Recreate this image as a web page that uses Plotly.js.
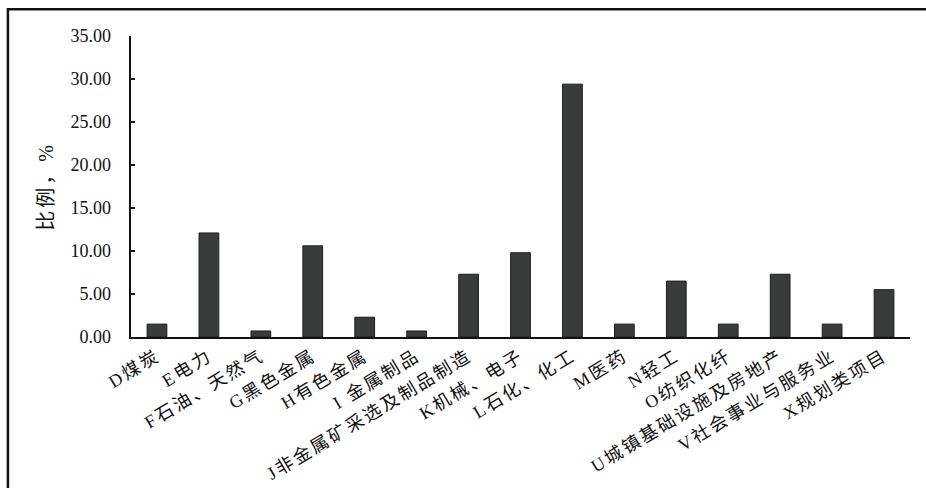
<!DOCTYPE html>
<html>
<head>
<meta charset="utf-8">
<script src="https://cdn.plot.ly/plotly-3.0.1.min.js"></script>
<style>
  html, body { margin: 0; padding: 0; background: #ffffff; }
  #chart { width: 926px; height: 488px; }
  /* wider spacing for the rotated category labels */
  #chart .xtick text { letter-spacing: 2.5px; }
  #chart .ytitle { letter-spacing: 3px; }
</style>
</head>
<body>
<div id="chart"></div>
<script>
// Industry categories
const categories = [
  "D煤炭", "E电力", "F石油、天然气", "G黑色金属", "H有色金属",
  "I 金属制品", "J非金属矿采选及制品制造", "K机械、电子", "L石化、化工",
  "M医药", "N轻工", "O纺织化纤", "U城镇基础设施及房地产",
  "V社会事业与服务业", "X规划类项目"
];

// Share of each industry, %
const shares = [1.5, 12.1, 0.7, 10.6, 2.3, 0.7, 7.3, 9.8, 29.4, 1.5, 6.5, 1.5, 7.3, 1.5, 5.5];

// Y axis tick values
const yTicks = [0, 5, 10, 15, 20, 25, 30, 35];

const fontFamily = '"Liberation Serif", "Noto Sans CJK SC", serif';
const ink = "#111111";

const trace = {
  type: "bar",
  x: categories,
  y: shares,
  marker: { color: "#3a3c3b", line: { color: "#1c1c1c", width: 1 } },
  hoverinfo: "x+y"
};

const layout = {
  width: 926,
  height: 488,
  margin: { l: 131, r: 16, t: 36, b: 151 },
  paper_bgcolor: "#ffffff",
  plot_bgcolor: "#ffffff",
  showlegend: false,
  bargap: 0.62,
  font: { family: fontFamily, color: ink },
  xaxis: {
    type: "category",
    showline: true,
    linecolor: ink,
    linewidth: 2,
    ticks: "",
    tickangle: -31,
    tickfont: { size: 18, family: fontFamily, color: ink },
    showgrid: false,
    zeroline: false,
    automargin: false
  },
  yaxis: {
    range: [0, 35],
    tickvals: yTicks,
    tickformat: ".2f",
    showline: true,
    linecolor: ink,
    linewidth: 2.5,
    ticks: "inside",
    ticklen: 4,
    tickwidth: 2,
    tickcolor: ink,
    ticklabelstandoff: 14,
    tickfont: { size: 18, family: fontFamily, color: ink },
    showgrid: false,
    zeroline: false,
    automargin: false,
    title: {
      text: "比例，%",
      font: { size: 20, family: fontFamily, color: ink },
      standoff: 12
    }
  },
  shapes: [{
    // outer frame, open on the right and bottom edges of the page
    type: "rect",
    xref: "paper", yref: "paper",
    x0: -0.158, x1: 1.1,
    y0: -0.6, y1: 1.0885,
    line: { color: ink, width: 2.5 },
    fillcolor: "rgba(0,0,0,0)",
    layer: "below"
  }]
};

Plotly.newPlot("chart", [trace], layout, { displayModeBar: false, staticPlot: true });
</script>
</body>
</html>
